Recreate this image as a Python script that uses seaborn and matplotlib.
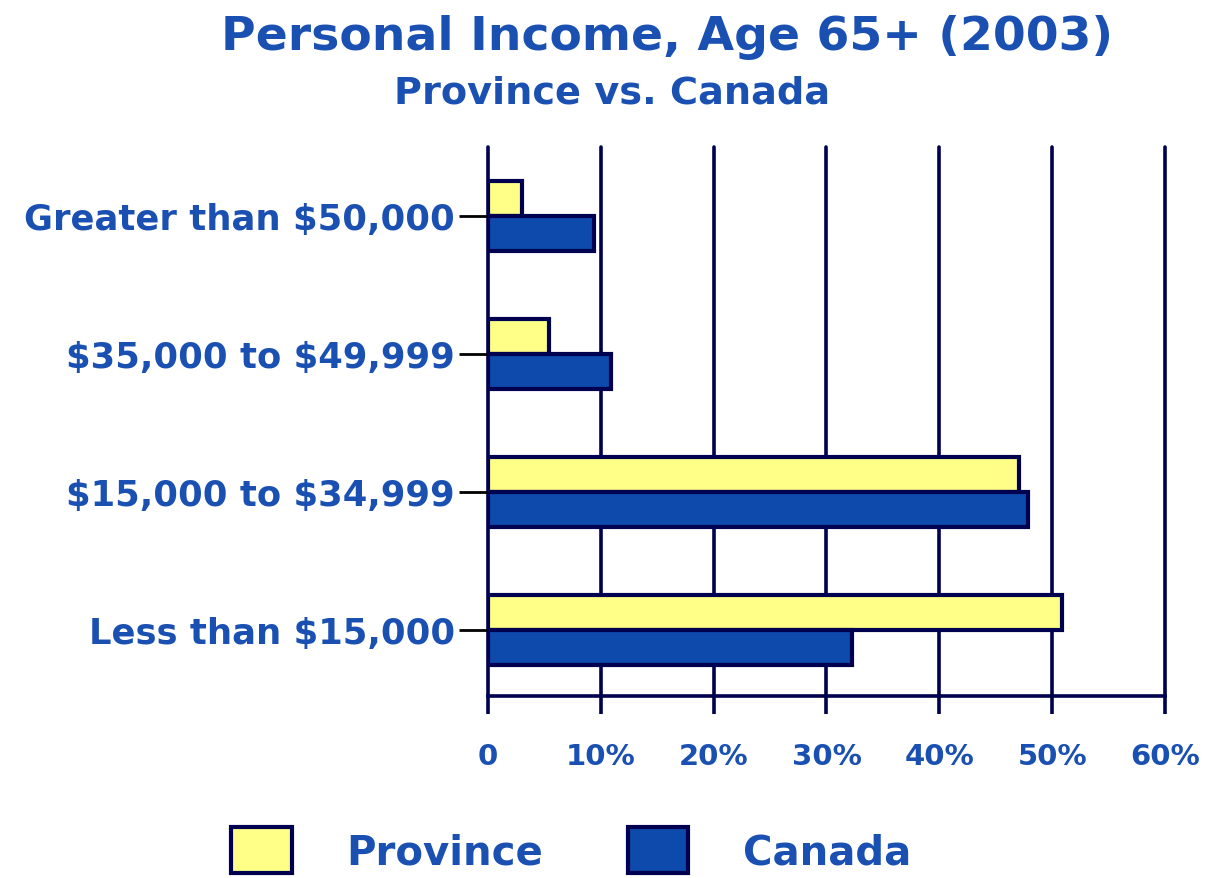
import pandas as pd
import matplotlib.pyplot as plt
import matplotlib.patches as mpatches
import seaborn as sns

# --- Data ---
categories = ["Greater than $50,000", "$35,000 to $49,999",
              "$15,000 to $34,999", "Less than $15,000"]
province = [3.0, 5.4, 47.1, 50.9]
canada = [9.4, 10.9, 47.9, 32.3]
series = ["Province", "Canada"]
x_ticks = [0, 10, 20, 30, 40, 50, 60]
x_labels = ["0", "10%", "20%", "30%", "40%", "50%", "60%"]

df = pd.DataFrame({
    "category": categories * 2,
    "value": province + canada,
    "series": ["Province"] * 4 + ["Canada"] * 4,
})

yellow = "#FFFF88"
blue = "#0E4AAB"
navy = "#000050"
txt = "#1A50B2"

sns.set_style("white")
plt.rcParams["font.family"] = ["DejaVu Sans"]
plt.rcParams["font.weight"] = "bold"
plt.rcParams["text.parse_math"] = False

fig = plt.figure(figsize=(12.1, 8.79), dpi=100)
ax = fig.add_axes([0.4033, 0.2071, 0.5595, 0.6245])

sns.barplot(data=df, x="value", y="category", hue="series", orient="h",
            order=categories, hue_order=series,
            palette={"Province": yellow, "Canada": blue}, saturation=1,
            width=0.51, edgecolor=navy, linewidth=3, legend=False, ax=ax)

# --- Axes styling ---
ax.set_xlim(0, 60)
ax.set_ylim(3.48, -0.5)
ax.set_xticks(x_ticks)
ax.set_xticklabels(x_labels, fontsize=21, color=txt, fontweight="bold")
ax.set_yticklabels(categories, fontsize=25.5, color=txt, fontweight="bold")
ax.set_xlabel("")
ax.set_ylabel("")
for x in x_ticks:
    ax.axvline(x, color=navy, lw=2.6, zorder=0, clip_on=False)
ax.set_axisbelow(True)
for s in ["top", "right", "left"]:
    ax.spines[s].set_visible(False)
ax.spines["bottom"].set_color(navy)
ax.spines["bottom"].set_linewidth(2.6)
ax.tick_params(axis="x", bottom=True, direction="out", length=13, width=2.6,
               color=navy, pad=20)
ax.tick_params(axis="y", left=True, direction="out", length=21, width=2,
               color="black", pad=3)

# --- Titles ---
fig.text(0.551, 0.957, "Personal Income, Age 65+ (2003)", ha="center", va="center",
         fontsize=34, color=txt, fontweight="bold")
fig.text(0.506, 0.894, "Province vs. Canada", ha="center", va="center",
         fontsize=27.5, color=txt, fontweight="bold")

# --- Legend ---
handles = [mpatches.Patch(facecolor=yellow, edgecolor=navy, linewidth=3, label="Province"),
           mpatches.Patch(facecolor=blue, edgecolor=navy, linewidth=3, label="Canada")]
leg = fig.legend(handles=handles, loc="center", bbox_to_anchor=(0.472, 0.032), ncol=2,
                 frameon=False, fontsize=29, handlelength=1.5, handleheight=1.4,
                 handletextpad=1.35, columnspacing=2.1)
for t in leg.get_texts():
    t.set_color(txt)
    t.set_fontweight("bold")

fig.savefig("out.png", dpi=100)
